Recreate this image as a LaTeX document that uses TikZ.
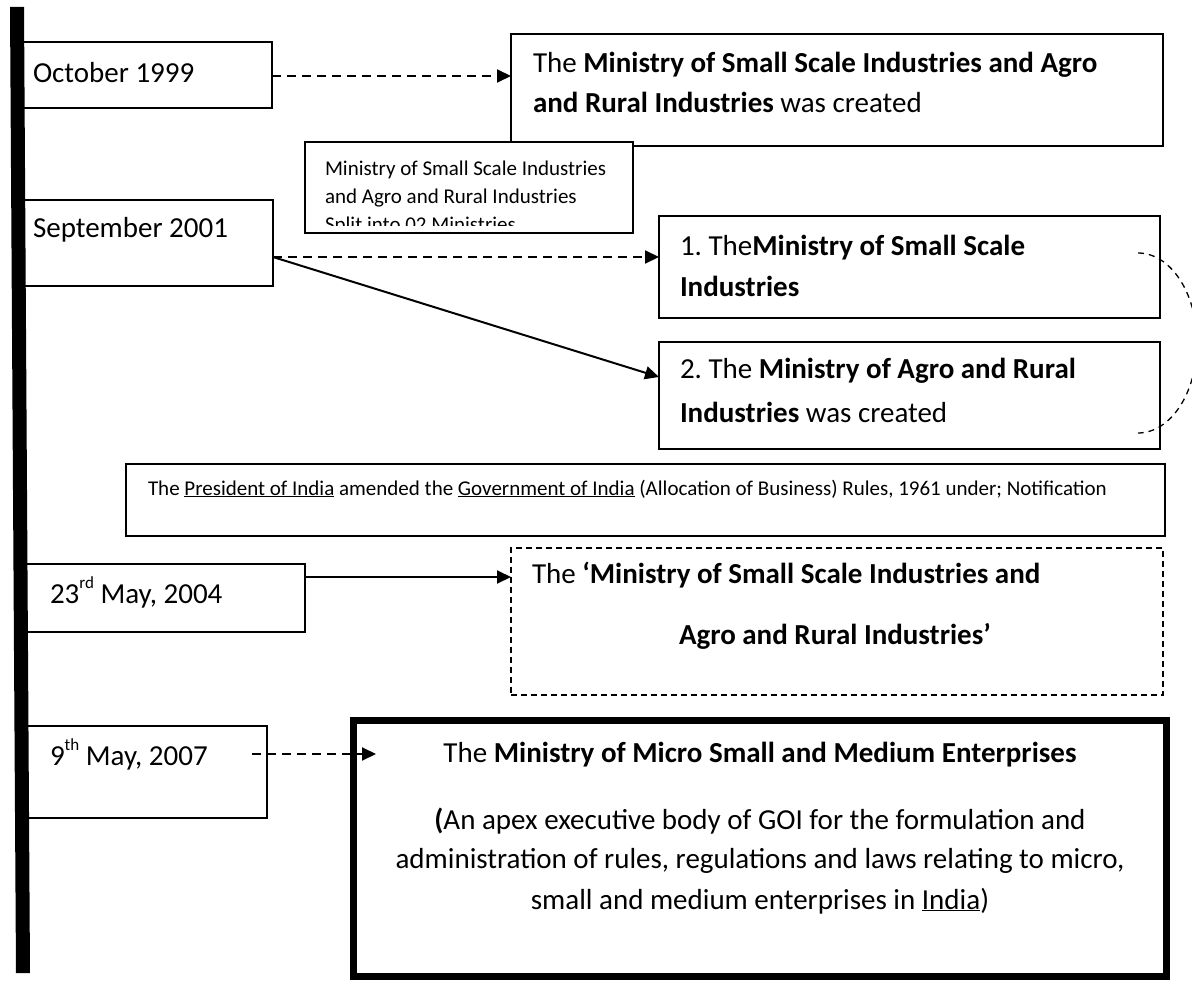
\documentclass[tikz,border=0pt]{standalone}
\usepackage{fontspec}
\setmainfont{Carlito}
\usetikzlibrary{arrows.meta,calc}
\frenchspacing
\newcommand\fbig{\fontsize{29pt}{35pt}\selectfont}
\newcommand\fsml{\fontsize{21pt}{25pt}\selectfont}
\newcommand\supr[1]{\raisebox{0.5em}{\fontsize{17pt}{17pt}\selectfont #1}}
\tikzset{
  frame/.style={draw, line width=2pt, fill=white, inner sep=0pt, outer sep=0pt, anchor=north west},
  dframe/.style={draw, line width=1.6pt, dash pattern=on 6pt off 4pt, fill=white, inner sep=0pt, outer sep=0pt, anchor=north west},
  heavyframe/.style={draw, line width=7pt, fill=white, inner sep=0pt, outer sep=0pt, anchor=north west},
  txt/.style={inner sep=0pt, outer sep=0pt, anchor=base west, font=\fbig},
  ctxt/.style={inner sep=0pt, outer sep=0pt, anchor=base, font=\fbig},
  stxt/.style={inner sep=0pt, outer sep=0pt, anchor=base west, font=\fsml},
  tip/.style={-{Triangle[length=14pt,width=13pt]}},
  darrow/.style={tip, line width=2pt, dash pattern=on 9pt off 6pt},
  sarrow/.style={tip, line width=2pt},
  bracketdash/.style={line width=1.3pt, dash pattern=on 6pt off 5pt}
}
\begin{document}
\begin{tikzpicture}[x=1pt,y=-1pt]
\useasboundingbox (0,0) rectangle (1192,982);
\clip (0,0) rectangle (1192,982);
\fill[white] (0,0) rectangle (1192,982);

% ---- boxes ----
\node[frame, minimum width=250pt, minimum height=66pt] (oct) at (22,42) {};
\node[frame, minimum width=652pt, minimum height=112pt] (boxA) at (511,34) {};
\node[frame, minimum width=251pt, minimum height=86pt] (sep) at (22,200) {};
\node[frame, minimum width=328pt, minimum height=91pt] (small) at (305,142) {};
\node[frame, minimum width=501pt, minimum height=102pt] (one) at (659,216) {};
\node[frame, minimum width=501pt, minimum height=107pt] (two) at (659,342) {};
\node[frame, minimum width=1039pt, minimum height=72pt] (pres) at (126,464) {};
\node[frame, minimum width=280pt, minimum height=68pt] (may23) at (25,564) {};
\node[dframe, minimum width=652pt, minimum height=147pt] (dbox) at (511,548) {};
\node[frame, minimum width=240pt, minimum height=92pt] (may9) at (27,726) {};
\node[heavyframe, minimum width=813pt, minimum height=256pt] (msme) at (353,720) {};

% ---- timeline bar ----
\fill[black] (10,7) -- (24,7) -- (30,973) -- (16,973) -- cycle;

% ---- texts ----
\node[txt] (toct) at (33,82) {October 1999};
\node[txt] (tA1) at (533,73) {The \textbf{Ministry of Small Scale Industries and Agro}};
\node[txt] (tA2) at (533,113) {\textbf{and Rural Industries} was created};

\begin{scope}
\clip ($(small.north west)+(1,1)$) rectangle ($(small.south east)+(-1,-8)$);
\node[stxt] (ts1) at (325,175) {Ministry of Small Scale Industries};
\node[stxt] (ts2) at (325,203) {and Agro and Rural Industries};
\node[stxt] (ts3) at (325,231) {Split into 02 Ministries};
\end{scope}

\node[txt] (tsep) at (33,237) {September 2001};
\node[txt] (t11) at (680,255) {1. The\textbf{Ministry of Small Scale}};
\node[txt] (t12) at (680,296) {\textbf{Industries}};
\node[txt] (t21) at (680,378) {2. The \textbf{Ministry of Agro and Rural}};
\node[txt] (t22) at (680,422) {\textbf{Industries} was created};

\node[stxt] (tpres) at (148,495) {The \underline{President of India} amended the \underline{Government of India} (Allocation of Business) Rules, 1961 under; Notification};

\node[txt] (t23) at (50,603) {23\supr{rd} May, 2004};
\node[txt] (td1) at (532,583) {The \textbf{‘Ministry of Small Scale Industries and}};
\node[txt] (td2) at (679,644) {\textbf{Agro and Rural Industries’}};

\node[txt] (t9) at (50,765) {9\supr{th} May, 2007};
\node[ctxt] (tm1) at (760,762) {The \textbf{Ministry of Micro Small and Medium Enterprises}};
\node[ctxt] (tm2) at (760,829) {\textbf{(}An apex executive body of GOI for the formulation and};
\node[ctxt] (tm3) at (760,868) {administration of rules, regulations and laws relating to micro,};
\node[ctxt] (tm4) at (760,909) {small and medium enterprises in \underline{India})};

% ---- connectors ----
\coordinate (y1) at (0,76);
\coordinate (y2) at (0,257);
\coordinate (y3) at (0,377);
\coordinate (y4) at (0,577);
\coordinate (y5) at (0,754);
\draw[darrow] (oct.east |- y1) -- (boxA.west |- y1);
\draw[darrow] (sep.east |- y2) -- (one.west |- y2);
\draw[sarrow] (sep.east |- y2) -- (two.west |- y3);
\draw[sarrow] (may23.east |- y4) -- (dbox.west |- y4);
\draw[darrow] ($(may9.east |- y5)+(-15,0)$) -- ($(msme.west |- y5)+(23,0)$);

% ---- bracket on the right ----
\draw[bracketdash] ($(one.north east)+(-22,37)$) arc[start angle=-90, end angle=90, x radius=59, y radius=90];
\end{tikzpicture}
\end{document}
